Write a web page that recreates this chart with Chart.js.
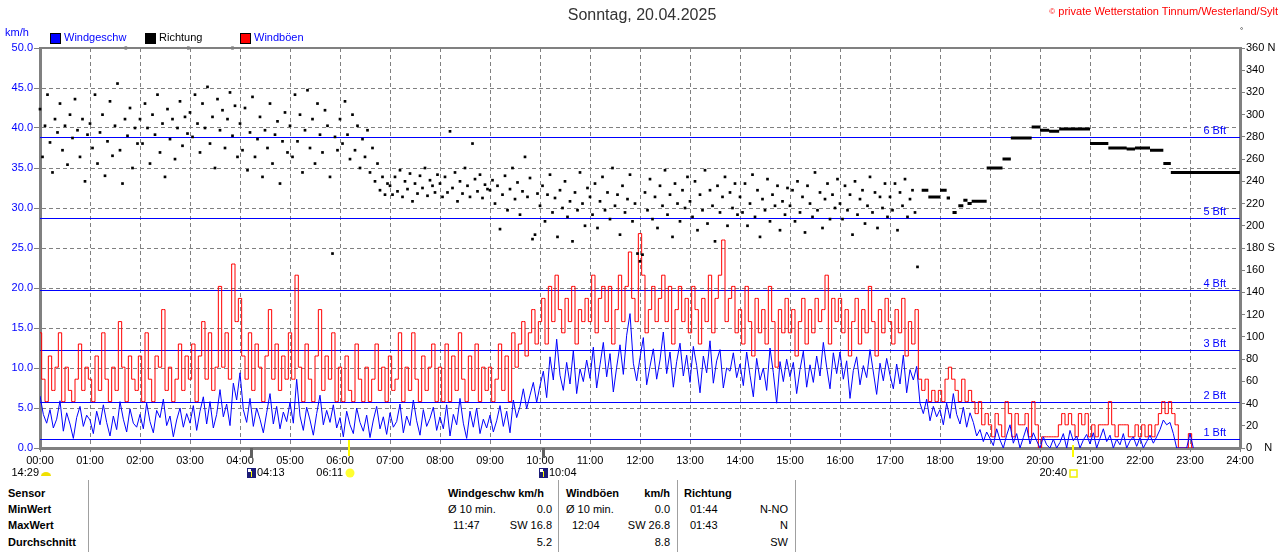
<!DOCTYPE html>
<html>
<head>
<meta charset="utf-8">
<script src="https://cdn.jsdelivr.net/npm/chart.js@4.4.1/dist/chart.umd.min.js"></script>
<style>
body { margin: 0; background: #fff; font-family: "Liberation Sans", Arial, sans-serif; font-size: 11px; }
#wrap { position: relative; width: 1280px; height: 552px; overflow: hidden; }
#chart { position: absolute; left: 0; top: 0; }
.t { position: absolute; white-space: nowrap; line-height: 13px; color: #000; }
.b { font-weight: bold; }
.sq { position: absolute; top: 33px; width: 9px; height: 9px; border: 1px solid #000; }
.vl { position: absolute; top: 480px; height: 72px; width: 1px; background: #a0a0a0; }
</style>
</head>
<body>
<div id="wrap">
  <canvas id="chart" width="1280" height="480"></canvas>

  <div class="t" style="left:0;width:1284px;text-align:center;top:6px;font-size:16px;line-height:18px;color:#333">Sonntag, 20.04.2025</div>
  <div class="t" style="right:2px;top:5px;font-size:11px;color:#f00"><span style="font-size:8px;vertical-align:top">©</span> private Wetterstation Tinnum/Westerland/Sylt</div>
  <div class="t" style="left:1240px;top:24px;font-size:8px">°</div>

  <div class="t" style="left:5px;top:26px;color:#00f">km/h</div>
  <div class="sq" style="left:50px;background:#00f"></div>
  <div class="t" style="left:64px;top:31px;color:#00f">Windgeschw</div>
  <div class="sq" style="left:145px;background:#000"></div>
  <div class="t" style="left:159px;top:31px">Richtung</div>
  <div class="sq" style="left:240px;background:#f00"></div>
  <div class="t" style="left:254px;top:31px;color:#00f">Windböen</div>

  <div class="vl" style="left:88px"></div>
  <div class="vl" style="left:558px"></div>
  <div class="vl" style="left:677px"></div>
  <div class="vl" style="left:795px"></div>

  <div class="t b" style="left:8px;top:487px">Sensor</div>
  <div class="t b" style="left:8px;top:503px">MinWert</div>
  <div class="t b" style="left:8px;top:519px">MaxWert</div>
  <div class="t b" style="left:8px;top:536px">Durchschnitt</div>

  <div class="t b" style="left:448px;top:487px">Windgeschw km/h</div>
  <div class="t" style="left:448px;top:503px">Ø 10 min.</div>
  <div class="t" style="right:728px;top:503px">0.0</div>
  <div class="t" style="left:453px;top:519px">11:47</div>
  <div class="t" style="right:728px;top:519px">SW 16.8</div>
  <div class="t" style="right:728px;top:536px">5.2</div>

  <div class="t b" style="left:566px;top:487px">Windböen</div>
  <div class="t b" style="right:610px;top:487px">km/h</div>
  <div class="t" style="left:566px;top:503px">Ø 10 min.</div>
  <div class="t" style="right:610px;top:503px">0.0</div>
  <div class="t" style="left:572px;top:519px">12:04</div>
  <div class="t" style="right:610px;top:519px">SW 26.8</div>
  <div class="t" style="right:610px;top:536px">8.8</div>

  <div class="t b" style="left:684px;top:487px">Richtung</div>
  <div class="t" style="left:690px;top:503px">01:44</div>
  <div class="t" style="right:492px;top:503px">N-NO</div>
  <div class="t" style="left:690px;top:519px">01:43</div>
  <div class="t" style="right:492px;top:519px">N</div>
  <div class="t" style="right:492px;top:536px">SW</div>
</div>

<script>
// wind speed, km/h, one value every 4 minutes from 00:00 (15 per hour)
const speed = [
  6.5, 4.2, 3.1, 4.8, 2.5, 3.6, 5.9, 2.1, 4.4, 3.0, 1.2, 3.8, 5.2, 2.7, 4.1,
  3.5, 1.8, 4.6, 2.9, 5.4, 3.2, 1.5, 4.0, 2.3, 5.8, 3.6, 2.0, 4.9, 3.1, 2.6,
  4.2, 2.4, 5.6, 3.3, 1.9, 4.7, 3.8, 6.1, 2.8, 4.0, 1.4, 3.5, 5.0, 2.6, 4.3,
  3.1, 5.3, 2.2, 4.6, 6.4, 3.0, 5.8, 2.5, 4.2, 7.3, 3.9, 5.5, 2.8, 8.1, 6.0,
  9.4, 4.8, 3.2, 6.2, 2.7, 5.0, 3.6, 1.9, 4.4, 6.8, 3.0, 5.2, 2.4, 4.5, 3.3,
  5.7, 3.1, 8.6, 4.0, 2.2, 5.1, 3.5, 1.6, 4.3, 6.6, 2.9, 4.7, 3.2, 5.4, 2.5,
  3.8, 1.4, 4.6, 2.9, 1.8, 5.0, 3.2, 2.1, 4.1, 1.3, 3.5, 5.2, 2.4, 3.9, 1.7,
  4.4, 2.6, 3.3, 5.5, 1.9, 4.0, 2.8, 6.0, 3.4, 1.6, 4.8, 2.7, 3.7, 5.1, 2.2,
  3.9, 2.4, 5.4, 1.5, 4.2, 2.9, 6.2, 3.1, 1.2, 4.6, 2.6, 5.0, 1.8, 3.6, 2.5,
  4.1, 2.0, 3.4, 5.3, 2.7, 4.6, 1.9, 6.0, 3.8, 5.2, 7.4, 4.9, 6.6, 8.2, 5.7,
  7.8, 9.6, 6.3, 11.4, 8.5, 13.6, 9.1, 7.2, 10.7, 8.0, 12.2, 6.8, 9.9, 8.3, 11.0,
  8.7, 12.6, 7.5, 10.4, 13.2, 8.9, 11.8, 7.0, 10.1, 12.9, 9.2, 14.1, 16.8, 10.6, 8.4,
  11.3, 13.8, 7.9, 10.2, 12.4, 8.6, 11.0, 14.5, 9.3, 12.0, 7.6, 10.8, 13.1, 9.0, 11.6,
  8.2, 12.7, 10.3, 6.9, 11.5, 9.4, 13.4, 8.1, 10.9, 12.3, 7.5, 10.0, 9.6, 11.9, 8.8,
  10.5, 7.8, 12.0, 9.1, 6.4, 11.2, 8.5, 10.0, 7.2, 12.5, 9.4, 5.6, 10.8, 8.3, 11.1,
  8.9, 10.7, 6.8, 9.8, 12.1, 7.6, 10.4, 8.2, 11.5, 9.0, 13.2, 10.1, 7.4, 11.9, 9.3,
  12.0, 8.6, 10.9, 6.2, 9.7, 11.4, 7.9, 10.3, 8.8, 12.3, 9.5, 6.7, 10.6, 8.4, 11.2,
  9.1, 7.4, 10.5, 8.0, 11.6, 6.9, 9.8, 8.5, 10.2, 5.6, 4.3, 6.1, 3.4, 5.2, 3.9,
  4.8, 2.9, 5.6, 3.7, 6.8, 4.2, 3.0, 5.1, 2.6, 4.4, 3.2, 1.5, 2.3, 0.8, 2.0,
  1.2, 0.3, 2.4, 1.0, 0.0, 1.6, 2.9, 0.6, 1.8, 0.0, 1.3, 2.6, 0.5, 1.9, 0.9,
  0.0, 1.4, 0.4, 0.0, 1.1, 0.0, 0.7, 1.8, 0.0, 2.2, 0.9, 1.5, 0.0, 1.0, 1.7,
  0.5, 1.9, 0.0, 1.2, 2.4, 0.8, 1.6, 0.0, 1.1, 0.4, 1.8, 0.0, 0.9, 1.4, 0.2,
  1.3, 0.0, 0.8, 1.6, 0.6, 1.4, 2.3, 3.5, 2.9, 3.2, 1.8, 0.0, 0.0, 0.0, 0.0,
  1.8, 0.0
];

// gusts, km/h, same 4 minute steps
const gusts = [
  14.4, 8.6, 5.8, 11.5, 7.2, 10.1, 14.4, 5.8, 10.1, 7.2, 5.8, 8.6, 13.0, 7.2, 10.1,
  8.6, 5.8, 11.5, 7.2, 14.4, 8.6, 5.8, 10.1, 7.2, 15.8, 10.1, 5.8, 11.5, 8.6, 7.2,
  11.5, 5.8, 14.4, 8.6, 5.8, 11.5, 10.1, 17.3, 7.2, 10.1, 5.8, 8.6, 13.0, 7.2, 11.5,
  8.6, 13.0, 5.8, 11.5, 15.8, 8.6, 14.4, 7.2, 10.1, 20.2, 10.1, 14.4, 8.6, 23.0, 15.8,
  18.7, 11.5, 8.6, 14.4, 7.2, 13.0, 10.1, 5.8, 11.5, 17.3, 8.6, 13.0, 7.2, 11.5, 8.6,
  14.4, 8.6, 21.6, 10.1, 5.8, 13.0, 8.6, 5.8, 11.5, 17.3, 7.2, 11.5, 8.6, 14.4, 5.8,
  10.1, 5.8, 11.5, 7.2, 5.8, 13.0, 8.6, 5.8, 10.1, 5.8, 8.6, 13.0, 7.2, 10.1, 5.8,
  11.5, 7.2, 8.6, 14.4, 5.8, 10.1, 7.2, 14.4, 8.6, 5.8, 11.5, 7.2, 10.1, 13.0, 5.8,
  10.1, 5.8, 13.0, 5.8, 11.5, 7.2, 14.4, 8.6, 5.8, 11.5, 7.2, 13.0, 5.8, 10.1, 7.2,
  10.1, 5.8, 8.6, 13.0, 7.2, 11.5, 5.8, 14.4, 10.1, 13.0, 15.8, 11.5, 14.4, 17.3, 13.0,
  15.8, 18.7, 13.0, 20.2, 15.8, 21.6, 17.3, 14.4, 18.7, 15.8, 20.2, 13.0, 17.3, 15.8, 18.7,
  15.8, 21.6, 14.4, 18.7, 20.2, 15.8, 20.2, 13.0, 17.3, 21.6, 15.8, 20.2, 24.5, 18.7, 15.8,
  26.8, 21.6, 14.4, 17.3, 20.2, 15.8, 18.7, 21.6, 15.8, 20.2, 13.0, 17.3, 20.2, 15.8, 18.7,
  14.4, 20.2, 17.3, 13.0, 18.7, 15.8, 21.6, 14.4, 18.7, 21.6, 26.0, 15.8, 18.7, 20.2, 14.4,
  17.3, 13.0, 20.2, 15.8, 11.5, 18.7, 14.4, 17.3, 13.0, 20.2, 15.8, 10.1, 17.3, 14.4, 18.7,
  14.4, 17.3, 11.5, 15.8, 18.7, 13.0, 17.3, 14.4, 18.7, 15.8, 17.3, 21.6, 13.0, 18.7, 15.8,
  18.7, 14.4, 17.3, 11.5, 15.8, 18.7, 13.0, 17.3, 14.4, 20.2, 15.8, 11.5, 17.3, 14.4, 18.7,
  15.8, 13.0, 17.3, 14.4, 18.7, 11.5, 15.8, 13.0, 17.3, 8.6, 7.2, 8.6, 5.8, 7.2, 5.8,
  7.2, 5.8, 8.6, 10.1, 8.6, 7.2, 5.8, 8.6, 5.8, 7.2, 5.8, 4.3, 5.8, 2.9, 4.3,
  2.9, 1.4, 4.3, 2.9, 1.4, 5.8, 4.3, 1.4, 4.3, 2.9, 2.9, 4.3, 1.4, 5.8, 2.9,
  0.0, 1.4, 1.4, 1.4, 1.4, 1.4, 2.9, 4.3, 2.9, 4.3, 2.9, 1.4, 4.3, 2.9, 4.3,
  1.4, 2.9, 1.4, 2.9, 2.9, 2.9, 5.8, 2.9, 1.4, 2.9, 2.9, 2.9, 1.4, 1.4, 2.9,
  1.4, 2.9, 1.4, 2.9, 1.4, 2.9, 4.3, 5.8, 4.3, 5.8, 4.3, 2.9, 0.0, 0.0, 0.0,
  1.8, 0.0
];

// wind direction, degrees, one reading every 3 minutes from 00:00 to 17:33
const direction = [
  305, 262, 290, 318, 275, 248, 296, 284, 310, 268, 290, 255, 300, 279, 314, 286, 262, 296, 240, 282,
  292, 270, 318, 256, 284, 300, 245, 276, 312, 263, 290, 328, 268, 238, 296, 281, 306, 252, 288, 274,
  296, 274, 310, 288, 256, 300, 282, 318, 266, 292, 244, 305, 278, 296, 260, 288, 312, 272, 298, 283,
  302, 280, 318, 292, 266, 310, 288, 325, 274, 298, 252, 314, 286, 304, 270, 296, 320, 281, 308, 262,
  292, 268, 306, 250, 284, 316, 262, 278, 298, 244, 286, 270, 310, 256, 282, 294, 238, 276, 302, 266,
  290, 262, 318, 276, 300, 248, 286, 322, 270, 296, 256, 310, 282, 266, 304, 290, 244, 175, 280, 268,
  296, 274, 312, 282, 260, 300, 268, 290, 252, 278, 262, 286, 248, 270, 240, 256, 232, 244, 228, 238,
  236, 228, 244, 231, 250, 226, 240, 233, 247, 222, 238, 229, 245, 234, 252, 227, 241, 236, 230, 246,
  238, 226, 244, 230, 285, 234, 248, 222, 240, 229, 252, 236, 226, 274, 242, 231, 246, 225, 237, 233,
  232, 241, 220, 236, 197, 228, 245, 214, 233, 252, 224, 239, 210, 231, 262, 226, 243, 188, 192, 229,
  218, 236, 204, 228, 246, 212, 225, 190, 232, 216, 240, 208, 222, 186, 230, 214, 248, 220, 200, 234,
  226, 210, 238, 198, 222, 244, 214, 230, 206, 252, 218, 228, 192, 236, 212, 224, 246, 204, 220, 175,
  168, 174, 230, 214, 242, 206, 226, 198, 236, 218, 250, 210, 228, 190, 238, 220, 204, 232, 216, 244,
  222, 208, 240, 196, 228, 214, 250, 202, 232, 218, 186, 236, 212, 226, 244, 200, 230, 216, 238, 210,
  226, 212, 238, 200, 220, 246, 208, 232, 190, 224, 214, 242, 204, 228, 218, 236, 196, 222, 210, 234,
  218, 232, 204, 240, 212, 226, 194, 236, 220, 208, 248, 214, 230, 198, 224, 238, 206, 228, 216, 242,
  220, 206, 236, 214, 228, 192, 240, 210, 224, 232, 202, 218, 244, 212, 230, 198, 226, 216, 238, 208,
  226, 214, 238, 196, 230, 218, 242, 208, 224, 232, 212, 163
];

// single readings at the top of the scale
const dirExtraTimes = ["01:43", "02:58", "03:51"];
const dirExtraValues = [360, 360, 360];

// steady direction in the evening
const segStart = ["17:38", "17:46", "18:00", "18:08", "18:15", "18:22", "18:28", "18:33", "18:38", "18:56", "19:15", "19:25", "19:50", "20:00", "20:11", "20:23", "21:00", "21:22", "21:44", "21:54", "22:12", "22:28", "22:37"];
const segEnd   = ["17:46", "18:00", "18:08", "18:12", "18:20", "18:28", "18:33", "18:38", "18:56", "19:15", "19:25", "19:50", "20:00", "20:11", "20:23", "21:00", "21:22", "21:44", "21:54", "22:12", "22:28", "22:37", "24:00"];
const segDir   = [232, 226, 232, 225, 212, 218, 223, 220, 222, 252, 260, 279, 289, 286, 285, 287, 274, 270, 269, 270, 268, 256, 248];

const bftLevels = [1.1, 5.8, 12.2, 19.8, 28.8, 38.9];
const bftLabels = ["1 Bft", "2 Bft", "3 Bft", "4 Bft", "5 Bft", "6 Bft"];

// sun and moon times shown under the time axis
const astroTimes = ["04:13", "06:11", "10:04", "20:40"];
const astroKinds = ["moonrise", "sunrise", "moonset", "sunset"];
const moonsetPrev = "14:29";

const FONT = '"Liberation Sans", Arial, sans-serif';

function toH(s) {
    const [h, m] = s.split(":").map(Number);
    return h + m / 60;
}

function pad2(n) {
    return String(n).padStart(2, "0");
}

function build_segments() {
    const pts = [];
    for (let i = 0; i < segStart.length; i++) {
        const a = toH(segStart[i]), b = toH(segEnd[i]);
        pts.push({x: a, y: segDir[i]}, {x: b, y: segDir[i]}, {x: b, y: null});
    }
    return pts;
}

const dirPoints = direction.map((v, i) => ({x: i * 3 / 60, y: v}))
    .concat(dirExtraTimes.map((t, i) => ({x: toH(t), y: dirExtraValues[i]})));

function moon_icon(ctx, x, y) {
    ctx.fillStyle = "#1c1c78";
    ctx.fillRect(x - 4, y - 5, 9, 10);
    ctx.fillStyle = "#fff";
    ctx.fillRect(x - 3, y - 4, 3, 3);
    ctx.fillStyle = "#ff0";
    ctx.fillRect(x, y - 2, 1, 6);
}

const overlay = {
    id: "overlay",
    beforeDatasetsDraw(chart) {
        const {ctx, chartArea: a, scales: {y}} = chart;
        ctx.save();
        ctx.strokeStyle = "#0000ff";
        ctx.fillStyle = "#0000ff";
        ctx.lineWidth = 1;
        ctx.font = "11px " + FONT;
        ctx.textAlign = "right";
        ctx.textBaseline = "bottom";
        bftLevels.forEach((v, i) => {
            const py = Math.round(y.getPixelForValue(v)) + 0.5;
            ctx.beginPath();
            ctx.moveTo(a.left, py);
            ctx.lineTo(a.right, py);
            ctx.stroke();
            ctx.fillText(bftLabels[i], a.right - 14, py - 1);
        });
        ctx.restore();
    },
    afterDraw(chart) {
        const {ctx, chartArea: a, scales: {x}} = chart;
        ctx.save();
        // top frame line
        ctx.strokeStyle = "#808080";
        ctx.lineWidth = 2;
        ctx.beginPath();
        ctx.moveTo(a.left - 1, a.top);
        ctx.lineTo(a.right + 1, a.top);
        ctx.stroke();

        ctx.font = "11px " + FONT;
        ctx.textBaseline = "middle";
        ctx.fillStyle = "#000";
        const ty = 473;

        // moonset of the previous day, pinned to the left edge
        const x0 = x.getPixelForValue(0);
        ctx.textAlign = "right";
        ctx.fillText(moonsetPrev, x0 - 1, ty);
        ctx.fillStyle = "#f0e000";
        ctx.beginPath();
        ctx.ellipse(x0 + 6, ty + 3, 5, 4, 0, Math.PI, 0);
        ctx.fill();

        astroTimes.forEach((t, i) => {
            const px = Math.round(x.getPixelForValue(toH(t)));
            const kind = astroKinds[i];
            if (kind === "sunrise" || kind === "sunset") {
                ctx.fillStyle = "#ffff00";
                ctx.fillRect(px - 1, a.bottom - (kind === "sunrise" ? 8 : 3), 2, kind === "sunrise" ? 16 : 12);
                ctx.fillStyle = "#000";
                ctx.textAlign = "right";
                ctx.fillText(t, px - 6, ty);
                if (kind === "sunrise") {
                    ctx.fillStyle = "#ffff30";
                    ctx.beginPath();
                    ctx.arc(px + 1, ty, 4.5, 0, Math.PI * 2);
                    ctx.fill();
                } else {
                    ctx.strokeStyle = "#f0f000";
                    ctx.lineWidth = 1.5;
                    ctx.strokeRect(px - 3, ty - 3, 7, 7);
                }
            } else {
                ctx.fillStyle = "#606060";
                ctx.fillRect(px - 1, a.bottom, 3, 10);
                moon_icon(ctx, px, ty);
                ctx.fillStyle = "#000";
                ctx.textAlign = "left";
                ctx.fillText(t, px + 6, ty);
            }
        });
        ctx.restore();
    }
};

const GRID = "#808080";

new Chart(document.getElementById("chart"), {
    type: "line",
    data: {
        datasets: [
            {
                label: "Richtung",
                data: dirPoints,
                yAxisID: "yDir",
                showLine: false,
                pointStyle: "rect",
                pointRadius: 1.9,
                pointBorderWidth: 0,
                pointBackgroundColor: "#000",
                clip: 4
            },
            {
                label: "Richtung konstant",
                data: build_segments(),
                yAxisID: "yDir",
                borderColor: "#000",
                borderWidth: 3,
                pointRadius: 0,
                spanGaps: false
            },
            {
                label: "Windgeschw",
                data: speed.map((v, i) => ({x: i * 4 / 60, y: v})),
                yAxisID: "y",
                borderColor: "#0000ff",
                borderWidth: 1,
                pointRadius: 0,
                tension: 0
            },
            {
                label: "Windböen",
                data: gusts.map((v, i) => ({x: i * 4 / 60, y: v})),
                yAxisID: "y",
                borderColor: "#ff0000",
                borderWidth: 1,
                pointRadius: 0,
                stepped: "middle"
            }
        ]
    },
    options: {
        responsive: false,
        animation: false,
        devicePixelRatio: 1,
        layout: {padding: {top: 48, left: 0, right: 0, bottom: 0}},
        plugins: {legend: {display: false}, title: {display: false}, tooltip: {enabled: false}},
        scales: {
            x: {
                type: "linear",
                min: 0,
                max: 24,
                afterFit(s) { s.height = 32; },
                ticks: {
                    stepSize: 1,
                    autoSkip: false,
                    maxRotation: 0,
                    padding: 2,
                    color: "#000",
                    font: {family: FONT, size: 11},
                    callback: v => pad2(v) + ":00"
                },
                grid: {color: GRID, lineWidth: 1, tickLength: 4, tickColor: GRID},
                border: {color: GRID, width: 3, dash: [4, 3]}
            },
            y: {
                position: "left",
                min: 0,
                max: 50,
                afterFit(s) { s.width = 40; },
                ticks: {
                    stepSize: 5,
                    padding: 1,
                    color: "#0000ff",
                    font: {family: FONT, size: 11},
                    callback: v => v.toFixed(1)
                },
                grid: {color: GRID, lineWidth: 1, tickLength: 6, tickColor: GRID},
                border: {color: GRID, width: 3, dash: [4, 3]}
            },
            yDir: {
                position: "right",
                min: 0,
                max: 360,
                afterFit(s) { s.width = 40; },
                ticks: {
                    stepSize: 20,
                    padding: 1,
                    color: "#000",
                    font: {family: FONT, size: 11},
                    callback: v => v === 360 ? "360 N" : v === 180 ? "180 S" : v === 0 ? "0    N" : String(v)
                },
                grid: {drawOnChartArea: false, tickLength: 5, tickColor: GRID},
                border: {color: GRID, width: 3}
            }
        }
    },
    plugins: [overlay]
});
</script>
</body>
</html>
